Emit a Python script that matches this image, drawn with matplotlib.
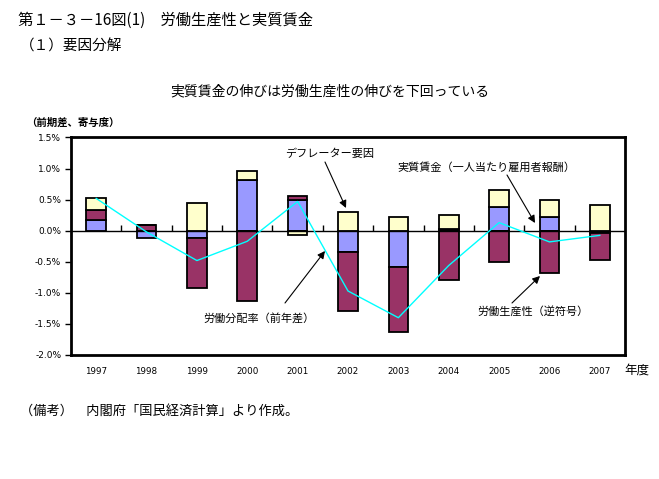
import matplotlib
matplotlib.use("Agg")
import matplotlib.pyplot as plt
import numpy as np

plt.rcParams['font.family'] = ['Noto Sans CJK JP', 'DejaVu Sans']

years = ['1997', '1998', '1999', '2000', '2001', '2002', '2003', '2004', '2005', '2006', '2007']
labor_share = [0.18, -0.115, -0.11, 0.81, 0.50, -0.34, -0.59, 0.02, 0.385, 0.22, -0.04]
productivity = [0.15, 0.09, -0.81, -1.13, 0.06, -0.95, -1.045, -0.79, -0.50, -0.68, -0.43]
deflator = [0.19, 0.0, 0.45, 0.15, -0.07, 0.30, 0.22, 0.23, 0.265, 0.27, 0.41]
real_wage = [0.52, -0.02, -0.48, -0.17, 0.47, -0.97, -1.40, -0.56, 0.13, -0.18, -0.075]
yticks = [1.5, 1.0, 0.5, 0.0, -0.5, -1.0, -1.5, -2.0]

series = [
    (labor_share, '#9999FF'),
    (productivity, '#993366'),
    (deflator, '#FFFFCC'),
]

W, H = 659, 479
fig = plt.figure(figsize=(W / 100, H / 100), dpi=100)

def fx(x):
    return x / W

def fy(y):
    return 1 - y / H

left, right, top, bottom = 71, 625, 137.5, 355
ax = fig.add_axes([fx(left), fy(bottom), (right - left) / W, (bottom - top) / H])

x = np.arange(len(years))
pos_base = np.zeros(len(years))
neg_base = np.zeros(len(years))
for vals, col in series:
    v = np.array(vals)
    b = np.where(v >= 0, pos_base, neg_base)
    ax.bar(x, v, width=0.39, bottom=b, color=col, edgecolor='black', linewidth=1.3, zorder=2)
    pos_base = pos_base + np.where(v >= 0, v, 0)
    neg_base = neg_base + np.where(v < 0, v, 0)

ax.plot(x, real_wage, color='#00FFFF', linewidth=1.0, zorder=4)

ax.set_xlim(-0.5, len(years) - 0.5)
ax.set_ylim(-2.0, 1.5)
ax.axhline(0, color='black', linewidth=1.0, zorder=3)

ax.set_yticks(yticks)
ax.set_yticklabels([f'{t:.1f}%' for t in yticks], fontsize=6.5, family='DejaVu Sans')
ax.tick_params(axis='y', direction='out', length=4, width=1, pad=3)
ax.set_xticks(x)
ax.set_xticklabels(years, fontsize=6.3, family='DejaVu Sans')
ax.tick_params(axis='x', length=0, pad=9)

zero_loc = (0 - (-2.0)) / 3.5
sec = ax.secondary_xaxis(zero_loc)
sec.xaxis.set_ticks_position('bottom')
sec.set_xticks(np.arange(0.5, len(years) - 1, 1.0))
sec.set_xticklabels([])
sec.tick_params(axis='x', which='both', direction='in', length=4, width=1,
                bottom=True, top=False, labelbottom=False, labeltop=False, color='black')
for s in sec.spines.values():
    s.set_visible(False)

for s in ax.spines.values():
    s.set_linewidth(2.0)

# texts
fig.text(fx(18), fy(20), '第１－３－16図(1)　労働生産性と実質賃金', fontsize=11, va='center', ha='left')
fig.text(fx(20), fy(47), '（１）要因分解', fontsize=10.5, va='center', ha='left')
fig.text(fx(330), fy(91), '実質賃金の伸びは労働生産性の伸びを下回っている', fontsize=10, va='center', ha='center')
fig.text(fx(26), fy(123), '（前期差、寄与度）', fontsize=7.5, va='center', ha='left', fontweight='bold')
fig.text(fx(624), fy(370), '年度', fontsize=9, va='center', ha='left')
fig.text(fx(20), fy(411), '（備考）　内閣府「国民経済計算」より作成。', fontsize=9.5, va='center', ha='left')

arrow = dict(arrowstyle='-|>', color='black', lw=0.8, mutation_scale=11, shrinkA=0, shrinkB=0)

def note(text, tx, ty, ax0, ay0, ax1, ay1):
    fig.text(fx(tx), fy(ty), text, fontsize=8, va='center', ha='center')
    ax.annotate('', xy=(fx(ax1), fy(ay1)), xytext=(fx(ax0), fy(ay0)),
                xycoords='figure fraction', textcoords='figure fraction',
                arrowprops=arrow, zorder=6)

note('デフレーター要因', 330, 154, 325, 162, 346, 208)
note('実質賃金（一人当たり雇用者報酬）', 486, 167, 507, 175, 535, 223)
note('労働分配率（前年差）', 259, 318, 285, 303, 325, 251)
note('労働生産性（逆符号）', 533, 311, 512, 303, 540, 276)

fig.savefig('out.png', dpi=100)
